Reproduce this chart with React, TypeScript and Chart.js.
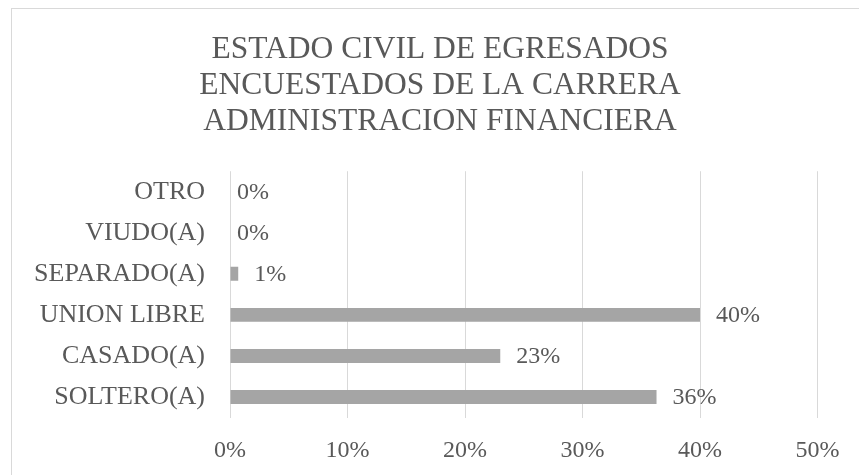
import React, { useEffect, useRef } from "react";
import { Chart, registerables } from "chart.js";

Chart.register(...registerables);

const categories = ["SOLTERO(A)", "CASADO(A)", "UNION LIBRE", "SEPARADO(A)", "VIUDO(A)", "OTRO"];
const values = [36.3, 23.0, 40.0, 0.7, 0, 0];
const valueLabels = ["36%", "23%", "40%", "1%", "0%", "0%"];
const xTicks = [0, 10, 20, 30, 40, 50];
const titleLines = [
  "ESTADO CIVIL DE EGRESADOS",
  "ENCUESTADOS DE LA CARRERA",
  "ADMINISTRACION FINANCIERA",
];

const FONT = "'Liberation Serif', 'Times New Roman', serif";
const TEXT = "#595959";

const frame = {
  id: "frame",
  afterLayout(chart: any) {
    if (chart.titleBlock) {
      chart.titleBlock.left = 11;
      chart.titleBlock.right = 869;
      chart.titleBlock.width = 858;
    }
  },
  beforeDraw(chart: any) {
    const ctx = chart.ctx;
    ctx.save();
    ctx.fillStyle = "#ffffff";
    ctx.fillRect(0, 0, chart.width, chart.height);
    ctx.strokeStyle = "#D9D9D9";
    ctx.lineWidth = 1;
    ctx.strokeRect(11.5, 8.5, 900, 500);
    ctx.restore();
  },
};

const dataLabels = {
  id: "dataLabels",
  afterDatasetsDraw(chart: any) {
    const ctx = chart.ctx;
    const meta = chart.getDatasetMeta(0);
    ctx.save();
    ctx.font = `24px ${FONT}`;
    ctx.fillStyle = TEXT;
    ctx.textAlign = "left";
    ctx.textBaseline = "middle";
    meta.data.forEach((bar: any, i: number) => {
      const gap = values[i] === 0 ? 7 : 16;
      ctx.fillText(valueLabels[i], bar.x + gap, bar.y + 1);
    });
    ctx.restore();
  },
};

export default function App() {
  const ref = useRef<HTMLCanvasElement | null>(null);
  useEffect(() => {
    if (!ref.current) return;
    const chart = new Chart(ref.current, {
      type: "bar",
      data: {
        labels: categories,
        datasets: [
          {
            data: values,
            backgroundColor: "#A5A5A5",
            borderWidth: 0,
            categoryPercentage: 1,
            barPercentage: 0.34,
          },
        ],
      },
      options: {
        indexAxis: "y",
        animation: false,
        responsive: false,
        maintainAspectRatio: false,
        layout: { padding: { left: 0, right: 41.5, top: 0, bottom: 0 } },
        plugins: {
          legend: { display: false },
          tooltip: { enabled: false },
          title: {
            display: true,
            text: titleLines,
            color: TEXT,
            font: { family: FONT, size: 31.5, weight: "normal", lineHeight: 1.14 },
            padding: { top: 32, bottom: 31.5 },
          },
        },
        scales: {
          x: {
            min: 0,
            max: 50,
            afterBuildTicks(scale: any) {
              scale.ticks = xTicks.map((v) => ({ value: v }));
            },
            afterFit(scale: any) {
              scale.height = 57.5;
            },
            ticks: {
              callback: (v: any) => `${v}%`,
              color: TEXT,
              font: { family: FONT, size: 24 },
              padding: 19,
              maxRotation: 0,
            },
            grid: { color: "#D9D9D9", lineWidth: 1, drawTicks: false },
            border: { display: false },
          },
          y: {
            reverse: true,
            afterFit(scale: any) {
              scale.width = 230;
            },
            ticks: {
              color: TEXT,
              font: { family: FONT, size: 26 },
              padding: 25,
            },
            grid: { display: false, drawTicks: false },
            border: { display: false },
          },
        },
      },
      plugins: [frame, dataLabels],
    } as any);
    return () => chart.destroy();
  }, []);
  return (
    <div style={{ position: "absolute", left: 0, top: 0, width: 859, height: 475 }}>
      <canvas ref={ref} width={859} height={475} />
    </div>
  );
}
